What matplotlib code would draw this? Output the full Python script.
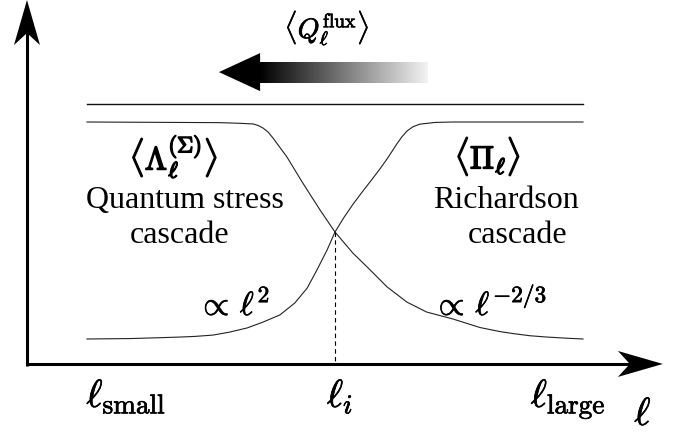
import numpy as np
import matplotlib.pyplot as plt
import matplotlib.patheffects as pe
from matplotlib.patches import Polygon

plt.rcParams['mathtext.fontset'] = 'cm'

# scale ell in percent of the range l_small .. l_large, flux in percent of the plateau
ell = [0, 26.8, 30.8, 33.5, 34.5, 35.5, 36.5, 37.5, 40.3, 43.5, 47.0, 50.0, 53.6,
       57.1, 60.5, 64.5, 68.5, 73.8, 79.2, 83.3, 85.9, 89.3, 92.7, 96.4, 100]
quantum_flux = [100, 99.7, 99.4, 99.1, 98.4, 97.2, 95.4, 92.6, 83.9, 71.9, 59.4, 49.3, 39.6,
                31.8, 24.0, 17.0, 12.4, 9.2, 5.3, 3.4, 2.5, 1.5, 0.9, 0.4, 0]

ell_r = [0, 8.7, 14.7, 18.8, 21.8, 25.4, 28.8, 32.3, 35.5, 38.9, 41.9, 44.4, 46.4,
         48.4, 50.0, 51.8, 53.6, 55.4, 57.1, 58.1, 59.1, 60.5, 61.5, 62.5, 63.5, 64.5,
         65.7, 67.1, 70.2, 73.8, 100]
richardson_flux = [0, 0.2, 0.6, 0.9, 1.2, 1.8, 3.2, 5.1, 7.8, 11.1, 16.6, 23.5, 32.0,
                   41.0, 49.3, 56.0, 62.0, 67.5, 72.5, 75.5, 78.5, 83.0, 86.5, 90.0, 93.2, 95.8,
                   97.8, 99.0, 99.8, 100, 100]

total_flux = 108.3
ell_cross = 50.0
flux_cross = 49.3

tick_pos = [0, 50, 100]
tick_labels = [r'$\ell_{\mathrm{small}}$', r'$\ell_i$', r'$\ell_{\mathrm{large}}$']

fig = plt.figure(figsize=(6.95, 4.33), dpi=100)
ax = fig.add_axes([0, 0, 1, 1])
ax.axis('off')

px_x = 4.96  # pixels per x unit
px_y = 2.17  # pixels per y unit

# axes with arrow heads
x_ax, y_ax = -12.1, -11.5
x_tip, y_tip = 116.1, 156.2
ax.plot([x_ax, x_ax], [y_ax - 1, y_tip - 30 / px_y], color='black', lw=2.2, solid_capstyle='butt')
ax.plot([x_ax, x_tip - 30 / px_x], [y_ax, y_ax], color='black', lw=2.2, solid_capstyle='butt')
hl, hw, notch = 45, 13, 33
ax.add_patch(Polygon([(x_ax, y_tip), (x_ax - hw / px_x, y_tip - hl / px_y),
                      (x_ax, y_tip - notch / px_y), (x_ax + hw / px_x, y_tip - hl / px_y)],
                     closed=True, color='black', lw=0))
ax.add_patch(Polygon([(x_tip, y_ax), (x_tip - hl / px_x, y_ax + hw / px_y),
                      (x_tip - notch / px_x, y_ax), (x_tip - hl / px_x, y_ax - hw / px_y)],
                     closed=True, color='black', lw=0))

# curves
ax.plot([0, 100], [total_flux, total_flux], color='#111111', lw=1.0)
ax.plot(ell, quantum_flux, color='#222222', lw=0.8)
ax.plot(ell_r, richardson_flux, color='#222222', lw=0.8)
ax.plot([ell_cross, ell_cross], [flux_cross, y_ax], color='black', lw=0.8, ls=(0, (4, 3)))

# gradient flux arrow
a_tip, a_base, a_end, a_y = 26.6, 34.9, 68.5, 123.0
shaft_h, head_h = 10.5 / px_y, 19 / px_y
grad = np.linspace(0, 0.95, 256).reshape(1, -1)
ax.imshow(grad, cmap='gray', vmin=0, vmax=1, aspect='auto', interpolation='bilinear',
          extent=(a_base - 0.3, a_end, a_y - shaft_h, a_y + shaft_h), zorder=2)
ax.add_patch(Polygon([(a_tip, a_y), (a_base, a_y + head_h), (a_base, a_y - head_h)],
                     closed=True, color='black', lw=0, zorder=3))
ax.set_xlim(-17.54, 122.58)
ax.set_ylim(-43.32, 156.22)

bold = [pe.withStroke(linewidth=1.1, foreground='black')]
semi = [pe.withStroke(linewidth=0.5, foreground='black')]

# labels
ax.text(48.4, 143.3, r'$\langle Q_\ell^{\mathrm{flux}}\rangle$', fontsize=20, ha='center', va='center',
        path_effects=semi)
ax.text(17.5, 83.9, r'$\langle \Lambda_\ell^{(\Sigma)}\rangle$', fontsize=23,
        ha='center', va='center', path_effects=bold)
ax.text(80.8, 83.9, r'$\langle \Pi_\ell\rangle$', fontsize=23, ha='center', va='center',
        path_effects=bold)
serif = dict(fontsize=23, family='Liberation Serif', ha='center', va='baseline')
ax.text(19.8, 60.4, 'Quantum stress', **serif)
ax.text(18.75, 44.2, 'cascade', **serif)
ax.text(84.5, 60.4, 'Richardson', **serif)
ax.text(86.9, 44.2, 'cascade', **serif)
ax.text(29.6, 11.1, r'$\propto\,\ell^2$', fontsize=24, ha='center', va='baseline', path_effects=semi)
ax.text(81.25, 11.1, r'$\propto\,\ell^{-2/3}$', fontsize=24, ha='center', va='baseline',
        path_effects=semi)

for pos, lab, off in zip(tick_pos, tick_labels, [7.9, 1.0, -3.0]):
    ax.text(pos + off, -31.3, lab, fontsize=28, ha='center', va='baseline', path_effects=semi)
ax.text(112.1, -39.6, r'$\ell$', fontsize=28, ha='center', va='baseline', path_effects=semi)

fig.savefig('out.png', dpi=100)
